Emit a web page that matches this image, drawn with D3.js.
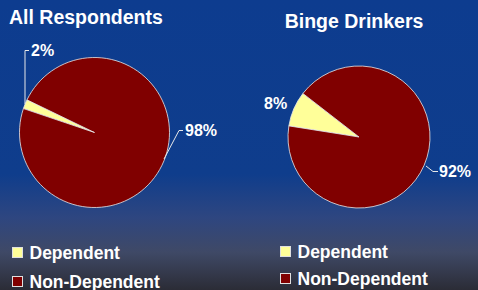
<!DOCTYPE html>
<html><head><meta charset="utf-8">
<script src="https://cdn.jsdelivr.net/npm/d3@7"></script>
<style>html,body{margin:0;padding:0;background:#0d3c8f;}svg{display:block;}</style>
</head><body>
<script>
const categories = ["Dependent", "Non-Dependent"];
const allRespondents = [2, 98];
const bingeDrinkers = [8, 92];
const titles = ["All Respondents", "Binge Drinkers"];
const colors = ["#FFFF99", "#800000"];

const W = 478, H = 290;
const svg = d3.select("body").append("svg").attr("width", W).attr("height", H);
const defs = svg.append("defs");
const grad = defs.append("linearGradient").attr("id", "bg").attr("x1", 0).attr("y1", 0).attr("x2", 0).attr("y2", 1);
grad.append("stop").attr("offset", "0").attr("stop-color", "#0d3c8f");
grad.append("stop").attr("offset", "0.6").attr("stop-color", "#0f3d8c");
grad.append("stop").attr("offset", "0.75").attr("stop-color", "#2e4680");
grad.append("stop").attr("offset", "0.87").attr("stop-color", "#3f4966");
grad.append("stop").attr("offset", "1").attr("stop-color", "#2b2c36");
svg.append("rect").attr("width", W).attr("height", H).attr("fill", "url(#bg)");

const font = "Arial, 'Liberation Sans', sans-serif";
const color = d3.scaleOrdinal().domain(categories).range(colors);

function drawPie(values, cx, cy, r, startDeg, title, tx, ty, tAnchor) {
  const g = svg.append("g").attr("transform", `translate(${cx},${cy})`);
  const data = categories.map((c, i) => ({cat: c, v: values[i]}));
  const start = startDeg * Math.PI / 180;
  const pie = d3.pie().value(d => d.v).sort(null).startAngle(start).endAngle(start + 2 * Math.PI);
  const arc = d3.arc().innerRadius(0).outerRadius(r);
  g.selectAll("path").data(pie(data)).enter().append("path")
    .attr("d", arc).attr("fill", d => color(d.data.cat))
    .attr("stroke", "#e8e8e8").attr("stroke-width", 0.8);
  svg.append("text").attr("x", tx).attr("y", ty).attr("text-anchor", tAnchor)
    .attr("fill", "#fff").attr("font-family", font).attr("font-weight", "bold")
    .attr("font-size", 19.5).text(title);
  return {g, arcs: pie(data), arc};
}

const p1 = drawPie(allRespondents, 94.5, 132.5, 75, 288.6, titles[0], 9, 24, "start");
const p2 = drawPie(bingeDrinkers, 359, 137, 71, 279, titles[1], 354, 28, "middle");

function label(txt, x, y, anchor) {
  svg.append("text").attr("x", x).attr("y", y).attr("text-anchor", anchor)
    .attr("fill", "#fff").attr("font-family", font).attr("font-weight", "bold")
    .attr("font-size", 16).text(txt);
}
function leader(pts) {
  svg.append("polyline").attr("points", pts.map(p => p.join(",")).join(" "))
    .attr("fill", "none").attr("stroke", "#e8e8e8").attr("stroke-width", 1);
}
const fmt = v => v + "%";
leader([[25, 104], [25, 50.5], [29, 50.5]]);
label(fmt(allRespondents[0]), 31, 56, "start");
leader([[164, 159], [179, 130.5], [183, 130.5]]);
label(fmt(allRespondents[1]), 185, 136, "start");
label(fmt(bingeDrinkers[0]), 264, 109, "start");
leader([[426, 166], [433, 171.5], [438, 171.5]]);
label(fmt(bingeDrinkers[1]), 439, 177, "start");

function legend(x, y, gap) {
  categories.forEach((c, i) => {
    const yy = y + i * gap;
    svg.append("rect").attr("x", x).attr("y", yy).attr("width", 10).attr("height", 10)
      .attr("fill", color(c)).attr("stroke", "#e0e0e0").attr("stroke-width", 1);
    svg.append("text").attr("x", x + 17).attr("y", yy + 11.5).attr("fill", "#fff")
      .attr("font-family", font).attr("font-weight", "bold").attr("font-size", 17.5).text(c);
  });
}
legend(12.5, 247.5, 29);
legend(280.5, 246.5, 27);
</script>
</body></html>
